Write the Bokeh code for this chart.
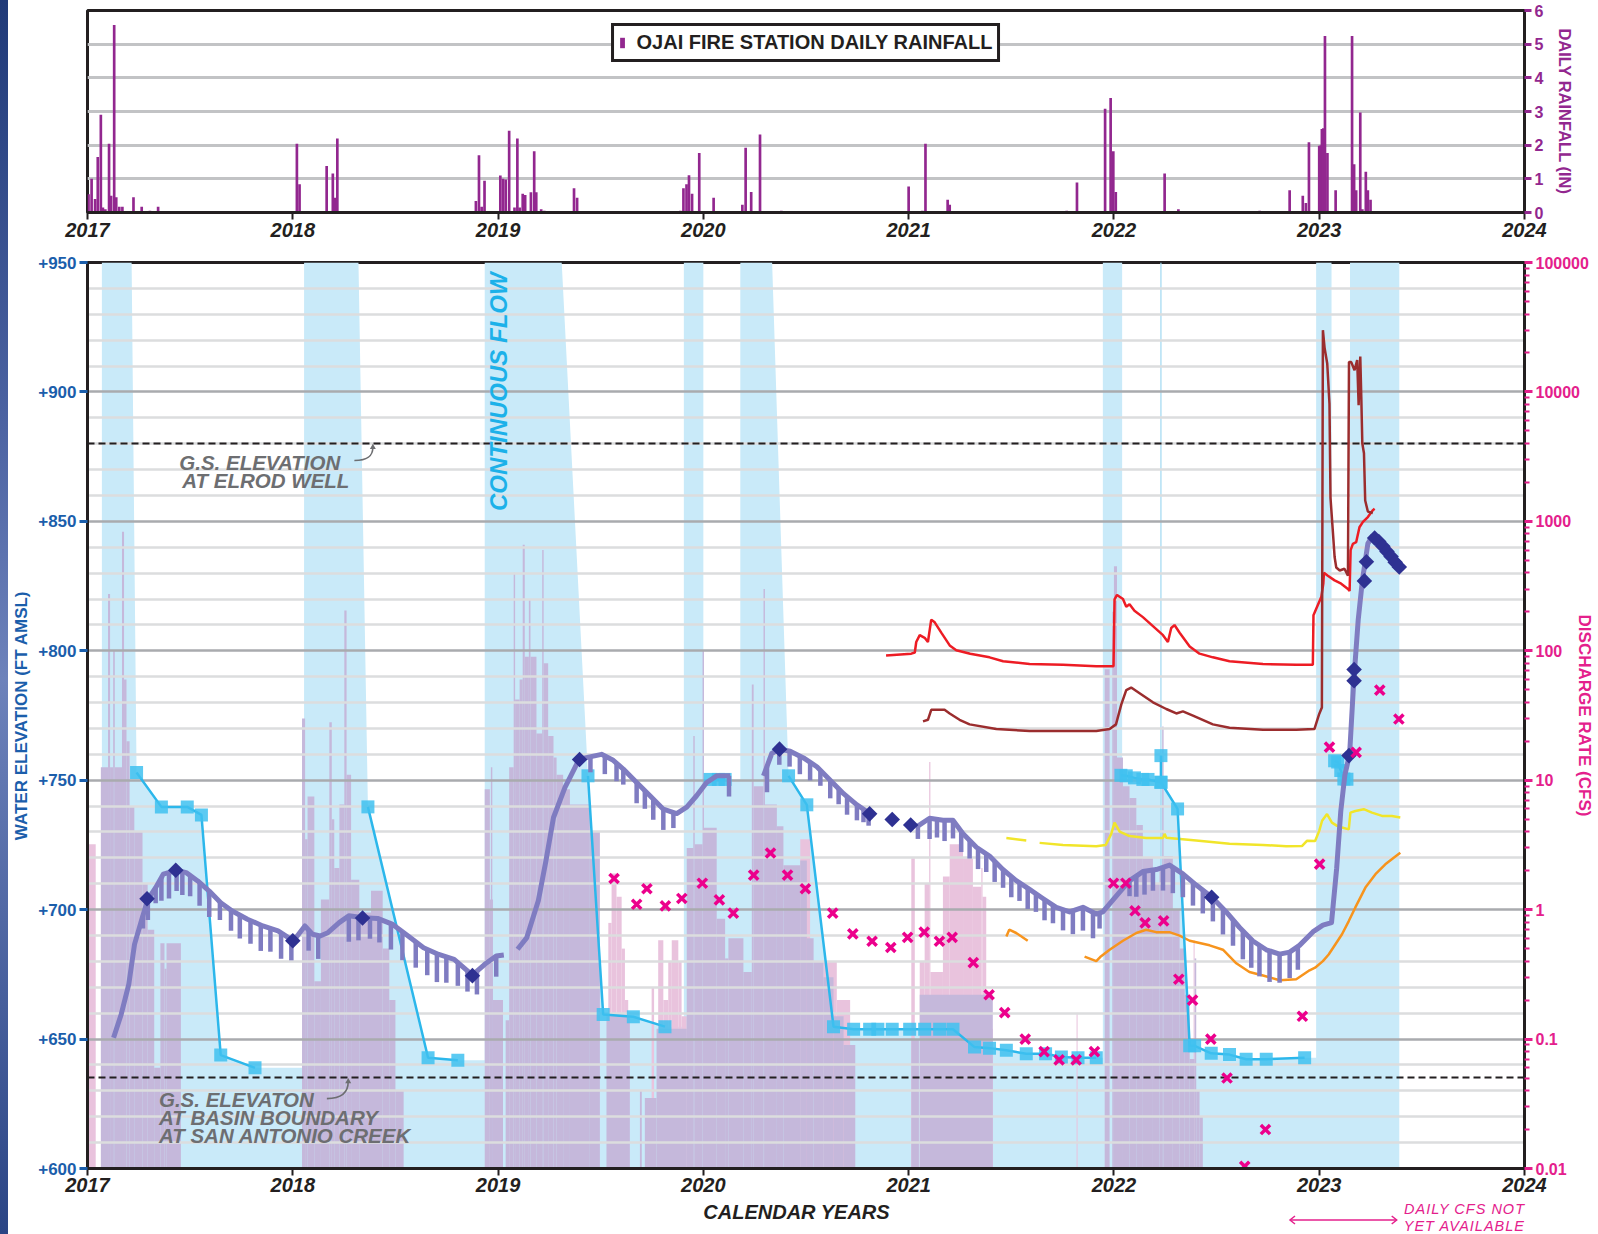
import numpy as np
from bokeh.plotting import figure
from bokeh.layouts import column, row
from bokeh.models import (Range1d, LogAxis, LogScale, FixedTicker, CustomJSTickFormatter, Div)
from bokeh.core.properties import value
from bokeh.embed import file_html
from bokeh.resources import INLINE

NaN = float("nan")
FONT = "Liberation Sans"

# ---------------- DATA ----------------
YEARS = [2017, 2018, 2019, 2020, 2021, 2022, 2023, 2024]

# Ojai fire station daily rainfall (in)
RAIN_T = [2017.005, 2017.02, 2017.037, 2017.05, 2017.065, 2017.075, 2017.087, 2017.105, 2017.115, 2017.13,
          2017.14, 2017.155, 2017.17, 2017.224, 2017.264, 2017.304, 2017.344,
          2018.02, 2018.033, 2018.165, 2018.195, 2018.205, 2018.217,
          2018.892, 2018.907, 2018.92, 2018.934, 2019.011, 2019.024, 2019.037, 2019.054, 2019.08, 2019.094,
          2019.105, 2019.12, 2019.132, 2019.16, 2019.176, 2019.186, 2019.21, 2019.225, 2019.37, 2019.385,
          2019.888, 2019.903, 2019.918, 2019.93, 2019.945, 2019.98, 2020.05, 2020.19, 2020.206, 2020.233,
          2020.276, 2020.38,
          2021.0, 2021.067, 2021.082, 2021.19, 2021.2, 2021.77, 2021.82, 2021.957, 2021.984, 2021.997,
          2022.009, 2022.247, 2022.314, 2022.71, 2022.856, 2022.92, 2022.935, 2022.95, 2023.0, 2023.008,
          2023.013, 2023.02, 2023.028, 2023.04, 2023.08, 2023.16, 2023.17, 2023.18, 2023.2, 2023.21,
          2023.227, 2023.237, 2023.25]
RAIN_IN = [0.54, 1.0, 0.4, 1.65, 2.9, 0.15, 0.1, 2.04, 0.5, 5.57,
           0.45, 0.17, 0.17, 0.45, 0.17, 0.05, 0.17,
           2.04, 0.84, 1.38, 1.16, 0.44, 2.2,
           0.34, 1.7, 0.17, 0.94, 1.1, 1.0, 0.98, 2.43, 0.15, 2.2,
           0.15, 0.56, 0.52, 0.6, 1.82, 0.6, 0.1, 0.05, 0.72, 0.44,
           0.05, 0.72, 0.84, 1.11, 0.56, 1.77, 0.44, 0.23, 1.92, 0.61,
           2.32, 0.05,
           0.77, 0.05, 2.04, 0.38, 0.23, 0.05, 0.89, 3.08, 3.4, 1.82,
           0.61, 1.16, 0.1, 0.05, 0.66, 0.5, 0.28, 2.09, 1.98, 2.0,
           2.48, 2.5, 5.24, 1.77, 0.66, 5.24, 1.43, 0.66, 2.97, 0.1,
           1.21, 0.66, 0.38]

# Continuous-flow / shallow-water shading: top boundary (ft) along time
BLUE_X = [2017.07, 2017.07, 2017.215, 2017.239, 2017.36, 2017.486, 2017.555, 2017.649, 2017.816, 2018.055,
          2018.055, 2018.32, 2018.366, 2018.659, 2018.804, 2018.935, 2018.935, 2019.31, 2019.438, 2019.512,
          2019.659, 2019.813, 2019.905, 2019.905, 2020.0, 2020.0, 2020.106, 2020.18, 2020.18, 2020.335,
          2020.415, 2020.504, 2020.634, 2020.732, 2021.216, 2021.321, 2021.394, 2021.476, 2021.573, 2021.667,
          2021.744, 2021.914, 2021.946, 2021.946, 2022.04, 2022.04, 2022.166, 2022.229, 2022.31, 2022.369,
          2022.474, 2022.563, 2022.644, 2022.742, 2022.929, 2022.985, 2022.985, 2023.06, 2023.06, 2023.15,
          2023.15, 2023.39, 2023.39]
BLUE_TOP = [600, 950, 950, 753, 739.7, 739.7, 736.6, 643.8, 638.9, 638.9,
            950, 950, 739.7, 642.8, 641.8, 641.8, 950, 950, 751.7, 659.5,
            658.6, 654.8, 654.8, 950, 950, 750.3, 750.3, 750.3, 950, 950,
            751.7, 740.5, 654.8, 653.8, 653.8, 646.9, 646.5, 645.7, 644.3, 644.3,
            643.1, 642.8, 642.8, 950, 950, 751.9, 750.3, 749.2, 738.9, 647.4,
            644.5, 644.0, 642.2, 642.2, 642.8, 642.8, 950, 950, 759, 759,
            950, 950, 600]
BLUE_THIN_X = [2022.229]

# Daily stream discharge (cfs), lavender bars
LAV_START = [2017.065, 2017.100, 2017.110, 2017.125, 2017.133, 2017.168, 2017.178, 2017.190, 2017.205, 2017.228,
             2017.268, 2017.293, 2017.325, 2017.355, 2017.375, 2017.385,
             2018.045, 2018.060, 2018.072, 2018.105, 2018.137, 2018.178, 2018.190, 2018.202, 2018.227, 2018.251,
             2018.262, 2018.284, 2018.324, 2018.381, 2018.438, 2018.470, 2018.500,
             2018.935, 2018.960, 2018.965, 2018.975, 2019.037, 2019.054, 2019.076, 2019.083, 2019.105, 2019.120,
             2019.130, 2019.150, 2019.158, 2019.187, 2019.215, 2019.222, 2019.244, 2019.270, 2019.285, 2019.317,
             2019.350, 2019.447, 2019.528, 2019.691, 2019.715, 2019.772, 2019.919, 2019.951, 2019.958, 2019.996,
             2020.003, 2020.065, 2020.106, 2020.122, 2020.195, 2020.236, 2020.245, 2020.293, 2020.300, 2020.358,
             2020.390, 2020.472, 2020.504, 2020.537, 2020.585, 2020.634, 2020.683,
             2021.013, 2021.054,
             2021.955, 2021.992, 2022.000, 2022.015, 2022.044, 2022.076, 2022.109, 2022.141, 2022.190, 2022.222,
             2022.235, 2022.242, 2022.287, 2022.320, 2022.345, 2022.369, 2022.393, 2022.401, 2022.417]
LAV_END = [2017.100, 2017.110, 2017.125, 2017.133, 2017.168, 2017.178, 2017.190, 2017.205, 2017.228, 2017.268,
           2017.293, 2017.325, 2017.355, 2017.375, 2017.385, 2017.455,
           2018.060, 2018.072, 2018.105, 2018.137, 2018.178, 2018.190, 2018.202, 2018.227, 2018.251, 2018.262,
           2018.284, 2018.324, 2018.381, 2018.438, 2018.470, 2018.500, 2018.540,
           2018.960, 2018.975, 2018.972, 2019.024, 2019.054, 2019.076, 2019.083, 2019.105, 2019.120, 2019.130,
           2019.150, 2019.158, 2019.187, 2019.215, 2019.222, 2019.244, 2019.270, 2019.285, 2019.317, 2019.350,
           2019.447, 2019.496, 2019.642, 2019.700, 2019.772, 2019.919, 2019.951, 2019.958, 2019.996, 2020.003,
           2020.065, 2020.106, 2020.122, 2020.195, 2020.236, 2020.245, 2020.293, 2020.300, 2020.358, 2020.390,
           2020.472, 2020.504, 2020.537, 2020.585, 2020.634, 2020.683, 2020.740,
           2021.050, 2021.410,
           2021.979, 2022.000, 2022.015, 2022.044, 2022.076, 2022.109, 2022.141, 2022.190, 2022.222, 2022.235,
           2022.242, 2022.287, 2022.320, 2022.345, 2022.369, 2022.393, 2022.401, 2022.417, 2022.433]
LAV_CFS = [12.6, 275, 12.6, 100, 12.6, 830, 60, 20, 6.3, 4.0,
           1.6, 0.7, 0.06, 0.55, 0.35, 0.55,
           30, 3.5, 7.5, 0.28, 1.2, 28, 5, 2.1, 6.5, 205,
           11, 1.7, 0.95, 1.4, 0.5, 0.2, 0.04,
           8.5, 1.2, 12.6, 0.2, 0.14, 12.6, 400, 42, 60, 660,
           90, 250, 90, 23, 600, 80, 22, 15, 11, 8.5,
           6.5, 4.0, 0.15, 0.04, 0.035, 0.12, 3.0, 22, 3.2, 100,
           4.3, 0.85, 0.42, 0.6, 0.33, 55, 9.0, 300, 6.5, 4.4,
           2.2, 2.4, 0.6, 0.4, 0.3, 0.15, 0.09,
           0.1, 0.22,
           72, 200, 450, 15, 9, 7.3, 4.5, 2.5, 1.6, 2.0,
           26, 2.6, 1.0, 0.5, 0.22, 0.07, 0.42, 0.04, 0.025]

# Second daily discharge record (cfs), pink bars
PINK_START = [2017.000, 2019.537, 2019.553, 2019.577, 2019.602, 2019.618, 2019.748, 2019.780, 2019.805, 2019.829,
              2019.846, 2019.878, 2019.894, 2020.472, 2020.585, 2020.650, 2021.013, 2021.054, 2021.078, 2021.100,
              2021.106, 2021.167, 2021.200, 2021.265, 2021.313, 2021.354, 2021.360, 2021.378, 2021.818, 2022.388]
PINK_END = [2017.040, 2019.553, 2019.577, 2019.602, 2019.618, 2019.634, 2019.760, 2019.805, 2019.829, 2019.846,
            2019.878, 2019.894, 2019.919, 2020.520, 2020.650, 2020.715, 2021.030, 2021.078, 2021.100, 2021.106,
            2021.167, 2021.200, 2021.265, 2021.313, 2021.354, 2021.360, 2021.378, 2021.410, 2021.823, 2022.393]
PINK_CFS = [3.2, 0.79, 1.9, 1.26, 0.5, 0.2, 0.25, 0.58, 0.2, 0.4,
            0.58, 0.4, 0.15, 3.5, 0.4, 0.2, 2.5, 0.4, 1.6, 13.8,
            0.33, 1.8, 3.2, 2.5, 1.5, 2.1, 1.26, 0.12, 0.16, 0.58]

# Continuous water level record (ft)
WL_X = [2017.127, 2017.164, 2017.201, 2017.229, 2017.267, 2017.294, 2017.332, 2017.369, 2017.434, 2017.481,
        2017.537, 2017.593, 2017.649, 2017.705, 2017.779, 2017.854, 2017.928, 2018.003, 2018.059, 2018.096,
        2018.133, 2018.171, 2018.226, 2018.273, 2018.344, 2018.413, 2018.487, 2018.562, 2018.637, 2018.711,
        2018.786, 2018.875, 2018.935, 2018.991, 2019.028, NaN,
        2019.095, 2019.14, 2019.196, 2019.233, 2019.27, 2019.326, 2019.395, 2019.447, 2019.504, 2019.561,
        2019.61, 2019.675, 2019.74, 2019.805, 2019.87, 2019.919, 2019.967, 2020.016, 2020.065, 2020.13, NaN,
        2020.293, 2020.333, 2020.371, 2020.423, 2020.488, 2020.553, 2020.618, 2020.683, 2020.748, 2020.813, NaN,
        2021.037, 2021.102, 2021.167, 2021.216, 2021.265, 2021.33, 2021.394, 2021.459, 2021.524, 2021.589,
        2021.654, 2021.719, 2021.784, 2021.849, 2021.914, 2021.946, 2022.011, 2022.076, 2022.141, 2022.206,
        2022.271, 2022.336, 2022.401, 2022.479, 2022.547, 2022.612, 2022.677, 2022.742, 2022.807, 2022.856,
        2022.904, 2022.969, 2023.018, 2023.06, 2023.085, 2023.105, 2023.125, 2023.148, 2023.168, 2023.19,
        2023.21, 2023.237, 2023.261]
WL_FT = [650.5, 659.5, 671.1, 686.6, 696.9, 704.0, 708.5, 713.7, 715.2, 714.3,
         711.1, 707.2, 702.7, 699.5, 696.3, 693.7, 691.8, 687.9, 693.7, 690.5,
         689.8, 691.1, 695.0, 697.6, 696.9, 696.6, 694.3, 689.8, 685.3, 682.7,
         680.8, 674.7, 678.9, 682.1, 682.5, NaN,
         684.7, 689.2, 703.4, 718.8, 735.6, 747.2, 758.1, 759.0, 760.0, 757.7,
         754.3, 749.1, 744.0, 738.8, 737.1, 739.6, 744.0, 749.1, 751.7, 751.7, NaN,
         751.7, 760.3, 762.0, 761.2, 758.6, 755.2, 750.0, 744.8, 740.5, 737.0, NaN,
         731.9, 735.3, 734.5, 734.5, 729.3, 724.1, 720.7, 715.5, 711.2, 707.8,
         704.3, 700.9, 699.1, 700.9, 698.3, 699.1, 705.2, 711.2, 714.7, 715.5,
         717.2, 713.8, 709.5, 704.7, 699.1, 693.1, 687.9, 684.5, 682.8, 683.6,
         686.2, 691.4, 694.0, 695.0, 716.0, 738.0, 752.0, 760.0, 788.0, 812.0,
         827.0, 841.4, 844.6]

# Periodic drawdown dips in the continuous record: date and depth (ft)
DIP_X = [2017.27, 2017.294, 2017.332, 2017.36, 2017.397, 2017.434, 2017.462, 2017.50, 2017.546, 2017.593,
         2017.645, 2017.699, 2017.742, 2017.794, 2017.844, 2017.891, 2017.943, 2017.993, 2018.077, 2018.124,
         2018.273, 2018.32, 2018.376, 2018.422, 2018.478, 2018.534, 2018.599, 2018.655, 2018.702, 2018.748,
         2018.804, 2018.851, 2018.897, 2018.991,
         2019.45, 2019.52, 2019.577, 2019.61, 2019.675, 2019.715, 2019.756, 2019.805, 2019.854, 2020.125,
         2020.31, 2020.37, 2020.42, 2020.47, 2020.52, 2020.57, 2020.618, 2020.659, 2020.70, 2020.748,
         2020.78, 2020.805,
         2021.045, 2021.102, 2021.138, 2021.175, 2021.216, 2021.256, 2021.297, 2021.338, 2021.378, 2021.419,
         2021.46, 2021.50, 2021.54, 2021.58, 2021.62, 2021.662, 2021.703, 2021.752, 2021.80, 2021.849,
         2021.898, 2021.93, 2022.076, 2022.109, 2022.149, 2022.19, 2022.239, 2022.287, 2022.336, 2022.385,
         2022.433, 2022.482, 2022.531, 2022.58, 2022.628, 2022.669, 2022.709, 2022.758, 2022.807, 2022.856,
         2022.896]
DIP_DEPTH = [5, 8, 6, 9, 10, 8, 9, 8, 9, 10,
             7, 8, 9, 9, 10, 9, 10, 8, 8, 9,
             10, 9, 8, 9, 10, 11, 10, 10, 11, 10,
             9, 8, 9, 8,
             6, 7, 7, 6, 8, 7, 8, 8, 6, 8,
             10, 6, 6, 7, 7, 6, 7, 6, 7, 6,
             5, 5,
             5, 8, 7, 8, 7, 8, 7, 8, 7, 8,
             7, 8, 7, 8, 7, 8, 7, 8, 9, 9,
             10, 6, 6, 8, 9, 8, 9, 10, 9, 9,
             9, 9, 10, 10, 11, 11, 12, 12, 11, 10,
             9]

# Manual water level measurements (ft)
DIA_X = [2017.29, 2017.43, 2018.0, 2018.34, 2018.875, 2019.397, 2020.371, 2020.81, 2020.92, 2021.01,
         2022.476, 2023.145, 2023.17, 2023.17, 2023.22, 2023.23, 2023.27, 2023.29, 2023.31, 2023.33,
         2023.35, 2023.37, 2023.39]
DIA_FT = [704.2, 715.2, 688.0, 696.8, 674.5, 758.0, 762.0, 737.0, 734.8, 732.7,
          704.8, 759.5, 788.4, 792.8, 827.0, 834.4, 843.6, 842.2, 840.4, 838.4,
          836.4, 834.2, 832.4]

# Shallow well water level (ft)
CY_X = [2017.239, 2017.36, 2017.486, 2017.555, 2017.649, 2017.816, NaN,
        2018.366, 2018.659, 2018.804, NaN,
        2019.438, 2019.512, 2019.659, 2019.813, NaN,
        2020.033, 2020.073, 2020.106, NaN,
        2020.415, 2020.504, 2020.634, 2020.732, 2020.81, 2020.85, 2020.92, 2021.005, 2021.078, 2021.151,
        2021.216, 2021.321, 2021.394, 2021.476, 2021.573, 2021.667, 2021.744, 2021.825, 2021.914, NaN,
        2022.034, 2022.06, 2022.10, 2022.141, 2022.166, 2022.229, 2022.229, 2022.229, 2022.31, 2022.369,
        2022.393, 2022.474, 2022.563, 2022.644, 2022.742, 2022.929, NaN,
        2023.075, 2023.09, 2023.105, 2023.12, 2023.135]
CY_FT = [753, 739.7, 739.7, 736.6, 643.8, 638.9, NaN,
         739.7, 642.8, 641.8, NaN,
         751.7, 659.5, 658.6, 654.8, NaN,
         750.3, 750.3, 750.3, NaN,
         751.7, 740.5, 654.8, 653.8, 653.8, 653.8, 653.8, 653.8, 653.8, 653.8,
         653.8, 646.9, 646.5, 645.7, 644.3, 644.3, 643.1, 642.8, 642.8, NaN,
         751.9, 751.7, 750.9, 750.3, 750.3, 749.2, 759.5, 749.2, 738.9, 647.4,
         647.4, 644.5, 644.0, 642.2, 642.2, 642.8, NaN,
         757.5, 757.0, 753.8, 750.5, 750.4]

# Discharge records (cfs)
RED_X = [2020.89, 2021.013, 2021.03, 2021.037, 2021.054, 2021.078, 2021.094, 2021.11, 2021.127, 2021.159,
         2021.20, 2021.232, 2021.30, 2021.394, 2021.46, 2021.589, 2021.752, 2021.914, 2021.998, 2022.003,
         2022.015, 2022.044, 2022.06, 2022.076, 2022.10, 2022.141, 2022.19, 2022.239, 2022.263, 2022.279,
         2022.295, 2022.32, 2022.369, 2022.417, 2022.482, 2022.563, 2022.726, 2022.888, 2022.969, 2022.972,
         2022.985, 2023.01, 2023.02, 2023.023, 2023.042, 2023.075, 2023.107, 2023.14, 2023.148, 2023.153,
         2023.164, 2023.18, 2023.196, 2023.213, 2023.237, 2023.261, 2023.27]
RED_CFS = [92, 95, 97, 117, 132, 126, 117, 174, 166, 138,
           110, 101, 95, 89, 83, 79, 78, 76, 76, 250,
           270, 251, 219, 229, 204, 182, 155, 132, 117, 150,
           158, 138, 108, 95, 89, 83, 79, 78, 78, 188,
           210, 260, 330, 400, 380, 350, 330, 300, 290, 600,
           670, 690, 900, 990, 1080, 1220, 1250]
DRED_X = [2021.07, 2021.094, 2021.11, 2021.175, 2021.20, 2021.248, 2021.297, 2021.427, 2021.589, 2021.914,
          2021.979, 2022.01, 2022.036, 2022.06, 2022.084, 2022.125, 2022.19, 2022.255, 2022.304, 2022.336,
          2022.385, 2022.482, 2022.563, 2022.726, 2022.888, 2022.977, 2023.0, 2023.013, 2023.018, 2023.026,
          2023.039, 2023.05, 2023.055, 2023.067, 2023.075, 2023.083, 2023.10, 2023.123, 2023.14, 2023.145,
          2023.156, 2023.172, 2023.185, 2023.192, 2023.20, 2023.205, 2023.21, 2023.218, 2023.224, 2023.237,
          2023.261]
DRED_CFS = [28.5, 29.3, 35, 35, 32.8, 29.3, 27, 24.9, 24, 24,
            24.9, 27, 38.5, 49.6, 52, 47, 40, 35.5, 32.8, 34,
            31.6, 27, 25.4, 24.5, 24.5, 24.9, 32.5, 36.5, 30000, 22000,
            16600, 8130, 1520, 810, 530, 440, 417, 430, 380, 17000,
            17000, 14700, 17600, 7900, 18800, 9100, 4000, 3360, 1450, 1190,
            1160]
YEL_X = [2021.476, 2021.573, NaN, 2021.638, 2021.752, 2021.914, 2021.96, 2021.987, 2022.003, 2022.028,
         2022.076, 2022.157, 2022.239, 2022.247, 2022.255, 2022.401, 2022.563, 2022.726, 2022.839, 2022.916,
         2022.94, 2022.98, 2023.0, 2023.014, 2023.038, 2023.062, 2023.087, 2023.111, 2023.144, 2023.152,
         2023.176, 2023.217, 2023.257, 2023.306, 2023.354, 2023.395]
YEL_CFS = [3.57, 3.42, NaN, 3.28, 3.16, 3.09, 3.16, 3.85, 4.7, 4.0,
           3.7, 3.57, 3.57, 3.85, 3.6, 3.42, 3.23, 3.16, 3.09, 3.1,
           3.4, 3.39, 4.06, 4.86, 5.48, 4.7, 4.44, 4.31, 4.17, 5.62,
           5.78, 5.97, 5.62, 5.3, 5.3, 5.16]
ORG_X = [2021.476, 2021.49, 2021.524, 2021.58, NaN, 2021.857, 2021.914, 2021.933, 2021.979, 2022.044,
         2022.109, 2022.157, 2022.206, 2022.27, 2022.32, 2022.369, 2022.466, 2022.531, 2022.596, 2022.66,
         2022.726, 2022.807, 2022.888, 2022.953, 2022.98, 2023.018, 2023.046, 2023.079, 2023.111, 2023.144,
         2023.176, 2023.225, 2023.274, 2023.322, 2023.363, 2023.395]
ORG_CFS = [0.62, 0.70, 0.66, 0.575, NaN, 0.434, 0.40, 0.43, 0.49, 0.575,
           0.66, 0.70, 0.67, 0.67, 0.63, 0.575, 0.53, 0.49, 0.385, 0.33,
           0.31, 0.285, 0.29, 0.34, 0.356, 0.40, 0.45, 0.54, 0.645, 0.816,
           1.04, 1.48, 1.88, 2.24, 2.52, 2.75]

# Manual discharge measurements (cfs)
MX_X = [2019.565, 2019.675, 2019.725, 2019.815, 2019.895, 2019.995, 2020.078, 2020.146, 2020.245, 2020.327,
        2020.41, 2020.497, 2020.63, 2020.728, 2020.822, 2020.913, 2020.995, 2021.076, 2021.15, 2021.212,
        2021.315, 2021.392, 2021.468, 2021.568, 2021.66, 2021.733, 2021.816, 2021.905, 2021.998, 2022.058,
        2022.103, 2022.152, 2022.242, 2022.316, 2022.383, 2022.472, 2022.551, 2022.637, 2022.738, 2022.918,
        2023.002, 2023.05, 2023.18, 2023.295, 2023.388]
MX_CFS = [1.74, 1.1, 1.45, 1.07, 1.22, 1.6, 1.19, 0.94, 1.85, 2.74,
          1.85, 1.45, 0.94, 0.65, 0.57, 0.51, 0.61, 0.67, 0.57, 0.61,
          0.39, 0.22, 0.16, 0.10, 0.08, 0.069, 0.069, 0.08, 1.6, 1.6,
          0.98, 0.79, 0.82, 0.29, 0.20, 0.10, 0.05, 0.0104, 0.02, 0.15,
          2.25, 18, 16.4, 49.6, 29.7]

GS_LEVELS = [880, 635]
FT_MAJOR = [600, 650, 700, 750, 800, 850, 900, 950]
FT_MINOR = [v for v in range(610, 950, 10) if v % 50 != 0]
CFS_MAJOR = [0.01, 0.1, 1, 10, 100, 1000, 10000, 100000]
CFS_MINOR = [m * d for d in [0.01, 0.1, 1, 10, 100, 1000, 10000] for m in range(2, 10)]
NO_DAILY_CFS = [2022.86, 2023.38]   # span of the "daily cfs not yet available" note

# ---------------- COLOURS ----------------
C_BLACK = "#231f20"
C_RAIN = "#92278f"
C_BLUE = "#c9eaf9"
C_LAV = "#c5b8db"
C_PINK = "#e9c3dd"
C_WL = "#7f7cc1"
C_NAVY = "#2e3192"
C_CYAN = "#2cb7eb"
C_MAG = "#ec008c"
C_RED = "#ed1c24"
C_DRED = "#9b2d2e"
C_YEL = "#f1e52a"
C_ORG = "#f7941d"
C_GRAY = "#6d6e71"
C_LBLUE = "#1b5eab"
C_RMAG = "#e4208c"

FIG_W = 1588
BORDER_L = 79
FRAME_W = 1437

# ---------------- TOP PANEL ----------------
top = figure(width=FIG_W, height=252, x_range=Range1d(2017, 2024), y_range=Range1d(0, 6),
             output_backend="svg", toolbar_location=None, y_axis_location="right",
             min_border_left=BORDER_L, min_border_right=66, min_border_top=10, min_border_bottom=40)
top.xgrid.visible = False
top.ygrid.ticker = FixedTicker(ticks=[1, 2, 3, 4, 5])
top.ygrid.grid_line_color = "#c2c3c5"
top.ygrid.grid_line_width = 3
top.outline_line_color = C_BLACK
top.outline_line_width = 3
top.outline_line_alpha = 1

top.vbar(x=RAIN_T, top=RAIN_IN, width=0.013, bottom=0, fill_color=C_RAIN, line_color=None,
         legend_label="OJAI FIRE STATION DAILY RAINFALL")

xa = top.xaxis[0]
xa.ticker = FixedTicker(ticks=YEARS)
ya = top.yaxis[0]
ya.ticker = FixedTicker(ticks=[0, 1, 2, 3, 4, 5, 6])
ya.axis_label = "DAILY RAINFALL (IN)"
for ax in (xa, ya):
    ax.axis_line_width = 3
    ax.axis_line_color = C_BLACK
    ax.minor_tick_line_color = None
    ax.major_tick_in = 0
    ax.major_tick_out = 7
    ax.major_label_text_font = FONT
xa.major_tick_line_width = 2
xa.major_tick_line_color = C_BLACK
xa.major_label_text_font_size = "20px"
xa.major_label_text_font_style = "bold italic"
xa.major_label_text_color = C_BLACK
xa.major_label_standoff = 3
ya.major_tick_line_width = 3
ya.major_tick_line_color = C_RAIN
ya.major_label_text_font_size = "16px"
ya.major_label_text_font_style = "bold"
ya.major_label_text_color = C_RAIN
ya.major_label_standoff = 3
ya.axis_label_text_font = FONT
ya.axis_label_text_font_size = "16.5px"
ya.axis_label_text_font_style = "bold"
ya.axis_label_text_color = C_RAIN
ya.axis_label_standoff = 10

lg = top.legend[0]
lg.location = "top_center"
lg.margin = 13
lg.padding = 5
lg.border_line_color = C_BLACK
lg.border_line_width = 3
lg.border_line_alpha = 1
lg.background_fill_alpha = 1
lg.glyph_width = 6
lg.glyph_height = 13
lg.label_standoff = 12
lg.label_height = 20
lg.label_text_font = FONT
lg.label_text_font_size = "20px"
lg.label_text_font_style = "bold"
lg.label_text_color = C_BLACK

# ---------------- MAIN PANEL ----------------
p = figure(width=FIG_W, height=950, x_range=Range1d(2017, 2024), y_range=Range1d(600, 950),
           output_backend="svg", toolbar_location=None,
           min_border_left=BORDER_L, min_border_right=66, min_border_top=10, min_border_bottom=34)
p.extra_y_ranges = {"cfs": Range1d(0.01, 100000)}
p.extra_y_scales = {"cfs": LogScale()}
p.outline_line_color = C_BLACK
p.outline_line_width = 3
p.outline_line_alpha = 1
p.xgrid.visible = False
p.ygrid.ticker = FixedTicker(ticks=FT_MAJOR, minor_ticks=FT_MINOR)
p.ygrid.grid_line_color = "#a9abae"
p.ygrid.grid_line_width = 2.5
p.ygrid.minor_grid_line_color = "#dcddde"
p.ygrid.minor_grid_line_width = 2.5

# fills (below the grid)
p.varea(x=BLUE_X, y1=600, y2=BLUE_TOP, fill_color=C_BLUE, level="image")
p.segment(x0=BLUE_THIN_X, y0=[600] * len(BLUE_THIN_X), x1=BLUE_THIN_X, y1=[950] * len(BLUE_THIN_X),
          line_color="#9fd8f1", line_width=1.2, level="image")
p.quad(left=PINK_START, right=PINK_END, bottom=0.01, top=PINK_CFS, y_range_name="cfs",
       fill_color=C_PINK, line_color=None, level="image")
p.quad(left=LAV_START, right=LAV_END, bottom=0.01, top=LAV_CFS, y_range_name="cfs",
       fill_color=C_LAV, line_color=None, level="image")

# ground surface references
p.hspan(y=GS_LEVELS, line_color=C_BLACK, line_width=2, line_dash="7 4")

# discharge lines
p.line(RED_X, RED_CFS, y_range_name="cfs", line_color=C_RED, line_width=2.5)
p.line(DRED_X, DRED_CFS, y_range_name="cfs", line_color=C_DRED, line_width=2.5)
p.line(YEL_X, YEL_CFS, y_range_name="cfs", line_color=C_YEL, line_width=2.5)
p.line(ORG_X, ORG_CFS, y_range_name="cfs", line_color=C_ORG, line_width=2.5)

# shallow well
p.line(CY_X, CY_FT, line_color=C_CYAN, line_width=2.5)
p.scatter(CY_X, CY_FT, marker="square", size=13, fill_color="#3fc1f0", fill_alpha=0.85, line_color=None)

# continuous water level with drawdown dips
wl_x = np.array(WL_X)
wl_y = np.array(WL_FT)
ok = ~np.isnan(wl_x)
dip_top = np.interp(DIP_X, wl_x[ok], wl_y[ok])
dip_bot = dip_top - np.array(DIP_DEPTH)
p.segment(x0=DIP_X, y0=dip_top, x1=DIP_X, y1=dip_bot, line_color=C_WL, line_width=4.5)
p.line(WL_X, WL_FT, line_color=C_WL, line_width=5, line_join="round")

p.scatter(DIA_X, DIA_FT, marker="square", angle=np.pi / 4, size=11, fill_color=C_NAVY, line_color=None)
p.scatter(MX_X, MX_CFS, y_range_name="cfs", marker="x", size=13, line_color=C_MAG, line_width=3.5)

# axes
la = p.left[0]
la.ticker = FixedTicker(ticks=FT_MAJOR)
la.major_label_overrides = {v: "+%d" % v for v in FT_MAJOR}
la.axis_label = "WATER ELEVATION (FT AMSL)"
la.major_tick_line_color = C_LBLUE
la.major_label_text_color = C_LBLUE
la.axis_label_text_color = C_LBLUE

ra = LogAxis(y_range_name="cfs", ticker=FixedTicker(ticks=CFS_MAJOR, minor_ticks=CFS_MINOR),
             formatter=CustomJSTickFormatter(code="return tick.toString()"))
p.add_layout(ra, "right")
ra.axis_label = "DISCHARGE RATE (CFS)"
ra.major_tick_line_color = C_RMAG
ra.minor_tick_line_color = C_RMAG
ra.major_label_text_color = C_RMAG
ra.axis_label_text_color = C_RMAG
ra.minor_tick_out = 5
ra.minor_tick_in = 0
ra.minor_tick_line_width = 2
ra.axis_label_standoff = -17

for ax in (la, ra):
    ax.axis_line_width = 3
    ax.axis_line_color = C_BLACK
    ax.major_tick_in = 0
    ax.major_tick_out = 8
    ax.major_tick_line_width = 3
    ax.major_label_standoff = 3
    ax.major_label_text_font = FONT
    ax.major_label_text_font_style = "bold"
    ax.axis_label_text_font = FONT
    ax.axis_label_text_font_size = "17px"
    ax.axis_label_text_font_style = "bold"
la.major_label_text_font_size = "17px"
ra.major_label_text_font_size = "16px"
la.minor_tick_line_color = None
la.axis_label_standoff = 4

ba = p.below[0]
ba.ticker = FixedTicker(ticks=YEARS)
ba.axis_line_width = 3
ba.axis_line_color = C_BLACK
ba.minor_tick_line_color = None
ba.major_tick_in = 0
ba.major_tick_out = 7
ba.major_tick_line_width = 2
ba.major_tick_line_color = C_BLACK
ba.major_label_standoff = 2
ba.major_label_text_font = FONT
ba.major_label_text_font_size = "20px"
ba.major_label_text_font_style = "bold italic"
ba.major_label_text_color = C_BLACK

# annotations inside the frame
TXT = dict(text_font=value(FONT), text_font_style="bold italic", text_font_size="20.5px",
           text_color=C_GRAY, text_align="left", text_baseline="alphabetic")
p.text(x=[2017.447, 2017.462], y=[872.8, 865.8], text=["G.S. ELEVATION", "AT ELROD WELL"], **TXT)
p.text(x=[2017.348, 2017.348, 2017.348], y=[626.6, 619.6, 612.6],
       text=["G.S. ELEVATON", "AT BASIN BOUNDARY", "AT SAN ANTONIO CREEK"], **TXT)
p.bezier(x0=[2018.30, 2018.166], y0=[873.5, 627.0], x1=[2018.39, 2018.27], y1=[878.6, 633.6],
         cx0=[2018.37, 2018.24], cy0=[873.5, 627.0], cx1=[2018.39, 2018.27], cy1=[875.5, 629.5],
         line_color=C_GRAY, line_width=1.6)
p.scatter(x=[2018.39, 2018.27], y=[878.6, 633.6], marker="triangle", size=6,
          fill_color=C_GRAY, line_color=None)
p.text(x=[2019.0], y=[854.0], text=["CONTINUOUS FLOW"], angle=np.pi / 2,
       text_font=value(FONT), text_font_style="bold italic", text_font_size="24px",
       text_color="#1cb1e9", text_align="left", text_baseline="middle")

# ---------------- NOTE STRIP BELOW THE MAIN PANEL ----------------
def xpix(year):
    return BORDER_L + (year - 2017) * FRAME_W / 7.0

ax0 = xpix(NO_DAILY_CFS[0])
ax1 = xpix(NO_DAILY_CFS[1])
note_right = FIG_W - xpix(2024)
arrow_svg = (
    '<svg style="position:absolute;left:%.1fpx;top:12px;overflow:visible" width="%.1f" height="12">'
    '<line x1="1" y1="6" x2="%.1f" y2="6" stroke="%s" stroke-width="1.5"/>'
    '<polyline points="6,2 1,6 6,10" fill="none" stroke="%s" stroke-width="1.5"/>'
    '<polyline points="%.1f,2 %.1f,6 %.1f,10" fill="none" stroke="%s" stroke-width="1.5"/>'
    '</svg>' % (ax0 - 1, ax1 - ax0 + 2, ax1 - ax0 + 1, C_RMAG, C_RMAG,
                ax1 - ax0 - 4, ax1 - ax0 + 1, ax1 - ax0 - 4, C_RMAG))
NOTE_LINE = ('position:absolute;right:%.1fpx;text-align:right;font-style:italic;font-size:14.5px;'
             'letter-spacing:1px;line-height:16.2px;color:%s;white-space:nowrap;' % (note_right - 1, C_RMAG))
note_html = (
    '<div style="position:relative;width:%dpx;height:32px;font-family:\'Liberation Sans\';">'
    '<div style="position:absolute;left:%.1fpx;width:240px;top:0px;text-align:center;font-weight:bold;'
    'font-style:italic;font-size:20px;line-height:20px;color:%s;white-space:nowrap;">CALENDAR YEARS</div>'
    '<div style="%stop:-0.6px;">DAILY CFS NOT</div>'
    '<div style="%stop:15.6px;">YET AVAILABLE</div>'
    '%s</div>' % (FIG_W, 788.5 - 120, C_BLACK, NOTE_LINE, NOTE_LINE, arrow_svg))
note = Div(text=note_html, width=FIG_W, height=32, margin=0, styles={"overflow": "visible"})

strip = Div(text="", width=8, height=1234, margin=0,
            styles={"background": "linear-gradient(to bottom, #203a78 0%, #4d64a3 35%, #6d82bb 55%, #2b4585 100%)"})
layout = row(strip, column(top, p, note, spacing=0), spacing=0)
open("out.html", "w").write(file_html(layout, INLINE))
